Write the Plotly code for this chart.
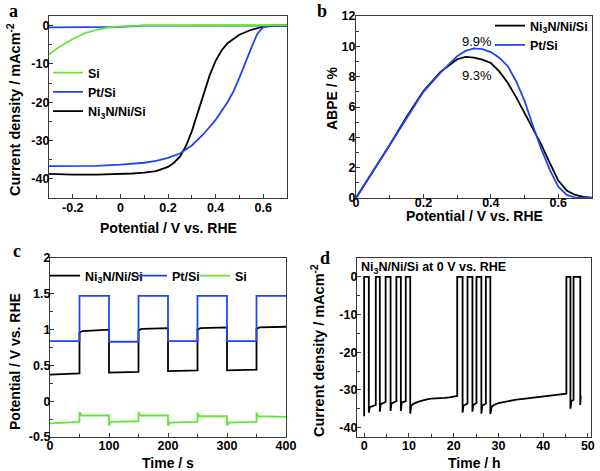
import plotly.graph_objects as go

# ---------------- data ----------------
# panel a : J-V curves
a_si_x = [-0.3, -0.25, -0.2, -0.15, -0.1, -0.05, 0.0, 0.05, 0.1, 0.7]
a_si_y = [-7.5, -5.3, -3.5, -2.0, -1.1, -0.5, -0.2, -0.05, 0.05, 0.1]
a_ptdark_x = [-0.3, 0.0, 0.1, 0.7]
a_ptdark_y = [-0.45, -0.35, 0.0, 0.0]
a_pt_x = [-0.3, -0.2, -0.1, 0.0, 0.1, 0.15, 0.2, 0.25, 0.3, 0.35, 0.4, 0.45, 0.475, 0.5,
          0.525, 0.55, 0.575, 0.6, 0.625, 0.65, 0.7]
a_pt_y = [-36.7, -36.7, -36.6, -36.3, -35.8, -35.3, -34.5, -33.4, -31.3, -28.3, -24.6, -20.0,
          -17.2, -13.6, -9.6, -5.8, -2.2, -0.4, -0.05, 0.0, 0.0]
a_ni_x = [-0.3, -0.2, -0.1, 0.0, 0.05, 0.1, 0.15, 0.2, 0.225, 0.25, 0.275, 0.3, 0.325, 0.35,
          0.375, 0.4, 0.425, 0.45, 0.5, 0.55, 0.6, 0.65, 0.7]
a_ni_y = [-38.7, -38.9, -38.9, -38.8, -38.6, -38.4, -38.0, -36.9, -35.8, -34.2, -31.5, -27.6,
          -22.6, -17.5, -13.0, -9.2, -6.5, -4.6, -2.4, -1.1, -0.3, 0.0, 0.0]

# panel b : ABPE
b_pt_x = [0, 0.05, 0.1, 0.15, 0.2, 0.25, 0.3, 0.325, 0.35, 0.375, 0.4, 0.425, 0.45, 0.475,
          0.5, 0.525, 0.55, 0.575, 0.6, 0.625, 0.65, 0.7]
b_pt_y = [0, 1.75, 3.5, 5.3, 7.0, 8.25, 9.35, 9.7, 9.87, 9.82, 9.62, 9.25, 8.7, 7.7,
          6.4, 4.75, 3.2, 1.85, 0.75, 0.2, 0.03, 0.0]
b_ni_x = [0, 0.05, 0.1, 0.15, 0.2, 0.25, 0.3, 0.325, 0.35, 0.375, 0.4, 0.425, 0.45, 0.475,
          0.5, 0.525, 0.55, 0.575, 0.6, 0.625, 0.65, 0.675, 0.7]
b_ni_y = [0, 1.75, 3.5, 5.35, 7.05, 8.3, 9.15, 9.3, 9.25, 9.12, 8.9, 8.35, 7.6, 6.65,
          5.6, 4.55, 3.5, 2.3, 1.15, 0.5, 0.2, 0.08, 0.03]
b_labels = ["9.9%", "9.3%"]
b_label_x = [0.359, 0.359]
b_label_y = [10.3, 8.1]

# panel c : chopped potential vs time
c_pt_t = [0, 50, 50, 100, 100, 150, 150, 200, 200, 250, 250, 300, 300, 350, 350, 400]
c_pt_v = [0.84, 0.84, 1.47, 1.47, 0.83, 0.83, 1.47, 1.47, 0.84, 0.84, 1.47, 1.47, 0.84, 0.84,
          1.47, 1.47]
c_ni_t = [0, 50, 50, 55, 100, 100, 150, 150, 155, 200, 200, 250, 250, 255, 300, 300, 350,
          350, 355, 400]
c_ni_v = [0.37, 0.39, 0.96, 0.98, 1.0, 0.40, 0.41, 0.99, 1.01, 1.02, 0.42, 0.43, 1.0, 1.02,
          1.03, 0.43, 0.44, 1.01, 1.03, 1.04]
c_si_t = [0, 50, 50, 53, 100, 100, 103, 150, 150, 153, 200, 200, 203, 250, 250, 253, 300,
          300, 303, 350, 350, 353, 400]
c_si_v = [-0.31, -0.29, -0.15, -0.2, -0.2, -0.34, -0.29, -0.28, -0.15, -0.2, -0.2, -0.34,
          -0.3, -0.29, -0.16, -0.21, -0.21, -0.34, -0.3, -0.29, -0.16, -0.21, -0.22]

# panel d : stability at 0 V vs RHE
d_t = [0, 0, 1.04, 1.04, 1.25, 2.6, 2.6, 3.5, 3.5, 3.7, 4.8, 4.8, 5.9, 5.9, 6.1, 7.2, 7.2,
       8.2, 8.2, 8.4, 9.3, 9.3, 10.3, 10.3, 10.5, 11, 12, 13, 14, 15, 16, 17, 18, 19, 20, 20.8,
       20.8, 22.0, 22.0, 22.2, 23.1, 23.1, 24.2, 24.2, 24.4, 25.1, 25.1, 26.2, 26.2, 26.4,
       27.2, 27.2, 28.2, 28.2, 28.5, 29, 30, 32, 34, 36, 38, 40, 42, 44, 45.2, 45.2, 46.1,
       46.1, 46.3, 46.8, 46.8, 48.3, 48.3, 48.4]
d_j = [-37, 0, 0, -36, -34.6, -34, 0, 0, -35.8, -33.8, -33.2, 0, 0, -35.6, -33.6, -33.0, 0,
       0, -35.6, -33.4, -33.0, 0, 0, -36.3, -34.2, -33.7, -33.2, -32.8, -32.5, -32.3, -32.3,
       -32.2, -32.1, -32.0, -31.8, -31.6, 0, 0, -36.0, -34.2, -33.6, 0, 0, -35.8, -34.0,
       -33.5, 0, 0, -36.3, -34.2, -33.6, 0, 0, -36.4, -34.5, -34.0, -33.5, -33.0, -32.6,
       -32.3, -32.0, -31.8, -31.6, -31.3, -31.0, 0, 0, -35.0, -33.0, -32.6, 0, 0, -34.0,
       -31.5]
d_label = "Ni<sub>3</sub>N/Ni/Si at 0 V vs. RHE"

# tick labels
a_xt = [-0.2, 0, 0.2, 0.4, 0.6]; a_xl = ["-0.2", "0", "0.2", "0.4", "0.6"]
a_yt = [0, -10, -20, -30, -40]; a_yl = ["0", "-10", "-20", "-30", "-40"]
b_xt = [0, 0.2, 0.4, 0.6]; b_xl = ["0", "0.2", "0.4", "0.6"]
b_yt = [0, 2, 4, 6, 8, 10, 12]; b_yl = ["0", "2", "4", "6", "8", "10", "12"]
c_xt = [0, 100, 200, 300, 400]; c_xl = ["0", "100", "200", "300", "400"]
c_yt = [-0.5, 0, 0.5, 1, 1.5, 2]; c_yl = ["-0.5", "0", "0.5", "1", "1.5", "2"]
d_xt = [0, 10, 20, 30, 40, 50]; d_xl = ["0", "10", "20", "30", "40", "50"]
d_yt = [0, -10, -20, -30, -40]; d_yl = ["0", "-10", "-20", "-30", "-40"]

NI = "Ni<sub>3</sub>N/Ni/Si"

# ---------------- style ----------------
FONT = "Liberation Sans"
BLACK = "#000000"
BLUE = "#2144f5"
GREEN = "#62e630"
AX = "#3a3a3a"
LW = 1.8
W, H = 600, 471


def fx(p):
    return p / W


def fy(p):
    return 1 - p / H


fig = go.Figure()


def line(x, y, color, name, xa, ya, legend, show=True):
    fig.add_trace(go.Scatter(x=x, y=y, mode="lines", name=name,
                             line=dict(color=color, width=LW),
                             xaxis=xa, yaxis=ya, legend=legend, showlegend=show))


# panel a
line(a_ptdark_x, a_ptdark_y, BLUE, "Pt/Si dark", "x", "y", "legend", False)
line(a_ni_x, a_ni_y, BLACK, NI, "x", "y", "legend")
line(a_pt_x, a_pt_y, BLUE, "Pt/Si", "x", "y", "legend")
line(a_si_x, a_si_y, GREEN, "Si", "x", "y", "legend")
# panel b
line(b_ni_x, b_ni_y, BLACK, NI, "x2", "y2", "legend2")
line(b_pt_x, b_pt_y, BLUE, "Pt/Si", "x2", "y2", "legend2")
# panel c (one legend box per entry to keep the compact row spacing)
line(c_ni_t, c_ni_v, BLACK, NI, "x3", "y3", "legend3")
line(c_pt_t, c_pt_v, BLUE, "Pt/Si", "x3", "y3", "legend4")
line(c_si_t, c_si_v, GREEN, "Si", "x3", "y3", "legend5")
# panel d
line(d_t, d_j, BLACK, NI, "x4", "y4", "legend", False)

tickfont = dict(family=FONT, size=12.5, color="#000", weight="bold")


def axis(domain, rng, tv, tl, minor_dtick, minor_tick0, anchor, standoff):
    return dict(domain=domain, range=rng, anchor=anchor, tickmode="array",
                tickvals=tv, ticktext=tl, showline=True, linecolor=AX, linewidth=1.3,
                mirror=True, ticks="inside", ticklen=4, tickwidth=1.2, tickcolor=AX,
                showgrid=False, zeroline=False, tickfont=tickfont, automargin=False,
                ticklabelstandoff=standoff,
                minor=dict(ticks="inside", ticklen=2.5, tickwidth=1, tickcolor=AX,
                           dtick=minor_dtick, tick0=minor_tick0, showgrid=False))


xa_dom = [fx(49), fx(287)]
xb_dom = [fx(356), fx(592)]
xc_dom = [fx(50), fx(286)]
xd_dom = [fx(357), fx(591)]
top_dom = [fy(198), fy(16)]
bot_dom = [fy(437), fy(258)]

fig.update_layout(
    template="none",
    width=W, height=H, margin=dict(l=0, r=0, t=0, b=0, pad=0, autoexpand=False),
    paper_bgcolor="white", plot_bgcolor="white", showlegend=True,
    xaxis=axis(xa_dom, [-0.3, 0.7], a_xt, a_xl, 0.1, -0.3, "y", -2),
    yaxis=axis(top_dom, [-45, 2.5], a_yt, a_yl, 5, 0, "x", -4),
    xaxis2=axis(xb_dom, [0, 0.7], b_xt, b_xl, 0.1, 0, "y2", -7),
    yaxis2=axis(top_dom, [0, 12], b_yt, b_yl, 1, 0, "x2", -3),
    xaxis3=axis(xc_dom, [0, 400], c_xt, c_xl, 50, 0, "y3", -3),
    yaxis3=axis(bot_dom, [-0.5, 2], c_yt, c_yl, 0.25, 0, "x3", -4),
    xaxis4=axis(xd_dom, [-1.6, 50.7], d_xt, d_xl, 5, 0, "y4", -3),
    yaxis4=axis(bot_dom, [-42.5, 5], d_yt, d_yl, 5, 0, "x4", -4),
)

legfont = dict(family=FONT, size=12.5, color="#000", weight="bold")


def leg(xpx, ypx, **kw):
    d = dict(x=fx(xpx), y=fy(ypx), xanchor="left", yanchor="top", font=legfont,
             bgcolor="rgba(0,0,0,0)", borderwidth=0, tracegroupgap=0)
    d.update(kw)
    return d


fig.update_layout(
    legend=leg(48, 58, traceorder="reversed"),
    legend2=leg(490, 11, traceorder="normal"),
    legend3=leg(45, 261),
    legend4=leg(132, 261),
    legend5=leg(195, 261),
)

ann = []
tfont = dict(family=FONT, size=14, color="#000", weight="bold")
# axis titles
ann.append(dict(text="Potential / V vs. RHE", x=fx(168), y=fy(228), font=tfont))
ann.append(dict(text="Potential / V vs. RHE", x=fx(474), y=fy(216), font=tfont))
ann.append(dict(text="Time / s", x=fx(168), y=fy(463), font=tfont))
ann.append(dict(text="Time / h", x=fx(474), y=fy(463), font=tfont))
ann.append(dict(text="Current density / mAcm<sup>-2</sup>", x=fx(14), y=fy(110),
                font=dict(tfont, size=14.5), textangle=-90))
ann.append(dict(text="ABPE / %", x=fx(332), y=fy(98), font=tfont, textangle=-90))
ann.append(dict(text="Potential / V vs. RHE", x=fx(15), y=fy(362), font=tfont,
                textangle=-90))
ann.append(dict(text="Current density / mAcm<sup>-2</sup>", x=fx(318), y=fy(351),
                font=dict(tfont, size=14.5), textangle=-90))
# panel letters
pfont = dict(family="Liberation Serif", size=18, color="#000", weight="bold")
for t, x, y in [("a", 13, 11), ("b", 322, 11), ("c", 17, 251), ("d", 325, 258)]:
    ann.append(dict(text=t, x=fx(x), y=fy(y), font=pfont))
for a in ann:
    a.update(xref="paper", yref="paper", showarrow=False, xanchor="center",
             yanchor="middle")

# panel b value labels
for t, x, y in zip(b_labels, b_label_x, b_label_y):
    ann.append(dict(text=t, x=x, y=y, xref="x2", yref="y2", showarrow=False,
                    font=dict(family=FONT, size=13, color="#000")))
# panel d text
ann.append(dict(text=d_label, x=fx(359), y=fy(268), xref="paper", yref="paper",
                xanchor="left", yanchor="middle", showarrow=False,
                font=dict(family=FONT, size=12.5, color="#000", weight="bold")))
fig.update_layout(annotations=ann)

fig.write_html("out.html",
               config={"displayModeBar": False},
               post_script="document.body.style.margin='0';"
                           "document.body.style.padding='0';")
